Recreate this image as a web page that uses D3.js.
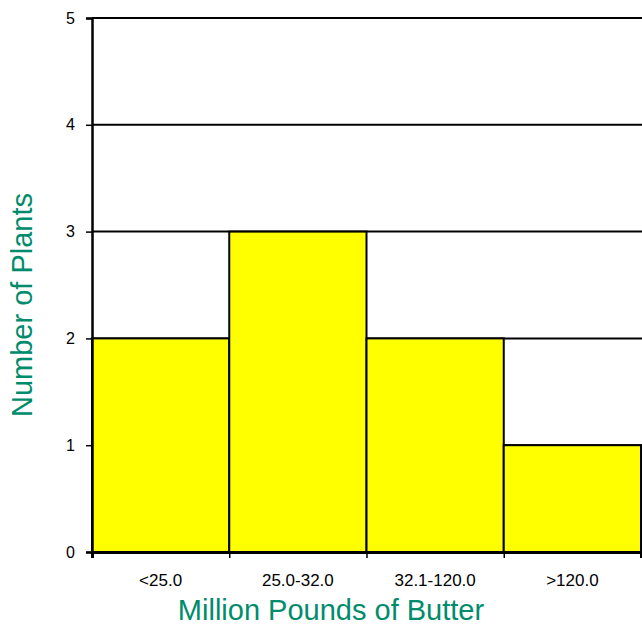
<!DOCTYPE html>
<html><head><meta charset="utf-8">
<script src="https://cdn.jsdelivr.net/npm/d3@7"></script>
<style>body{margin:0;background:#fff}svg{display:block}</style>
</head><body>
<svg id="c" width="642" height="626"></svg>
<script>
const categories = ["<25.0", "25.0-32.0", "32.1-120.0", ">120.0"];
const plants = [2, 3, 2, 1];
const yTicks = [0, 1, 2, 3, 4, 5];

const svg = d3.select("#c");
const L = 92, R = 641, T = 18, B = 552;
const x = d3.scaleBand().domain(categories).range([L, R]).padding(0);
const y = d3.scaleLinear().domain([0, 5]).range([B, T]);
const font = "Arial, 'Liberation Sans', sans-serif";
const green = "#008c6c";

// gridlines
svg.append("g").selectAll("line").data(yTicks.filter(d => d > 0)).join("line")
  .attr("x1", L).attr("x2", 642).attr("y1", d => y(d)).attr("y2", d => y(d))
  .attr("stroke", "#000").attr("stroke-width", 2);

// bars
svg.append("g").selectAll("rect").data(categories).join("rect")
  .attr("x", d => x(d)).attr("width", x.bandwidth())
  .attr("y", (d, i) => y(plants[i])).attr("height", (d, i) => y(0) - y(plants[i]))
  .attr("fill", "#ffff00").attr("stroke", "#000").attr("stroke-width", 2);

// y axis
const ya = svg.append("g").attr("transform", `translate(${L},0)`)
  .call(d3.axisLeft(y).tickValues(yTicks).tickSize(6).tickPadding(11).tickFormat(d3.format("d")));
ya.attr("font-size", null).attr("font-family", null);
ya.select(".domain").attr("stroke-width", 2.5);
ya.selectAll(".tick line").attr("stroke-width", 1.5);
ya.selectAll("text").style("font-family", font).style("font-size", "16px").attr("fill", "#000");

// x axis
const xl = d3.scaleLinear().domain([0, categories.length]).range([L, R]);
const xa = svg.append("g").attr("transform", `translate(0,${B})`)
  .call(d3.axisBottom(xl).tickValues(d3.range(0, categories.length + 1)).tickSize(6).tickFormat(""));
xa.select(".domain").attr("stroke-width", 3);
xa.selectAll(".tick line").attr("stroke-width", 1.5);
svg.append("g").selectAll("text").data(categories).join("text")
  .attr("x", d => x(d) + x.bandwidth() / 2).attr("y", 586)
  .attr("text-anchor", "middle").style("font-family", font).style("font-size", "17px")
  .text(d => d);

// titles
svg.append("text").attr("x", 331).attr("y", 620).attr("text-anchor", "middle")
  .style("font-family", font).style("font-size", "29px").attr("fill", green)
  .text("Million Pounds of Butter");
svg.append("text").attr("transform", "translate(32,305) rotate(-90)").attr("text-anchor", "middle")
  .style("font-family", font).style("font-size", "29px").attr("fill", green)
  .text("Number of Plants");
</script>
</body></html>
